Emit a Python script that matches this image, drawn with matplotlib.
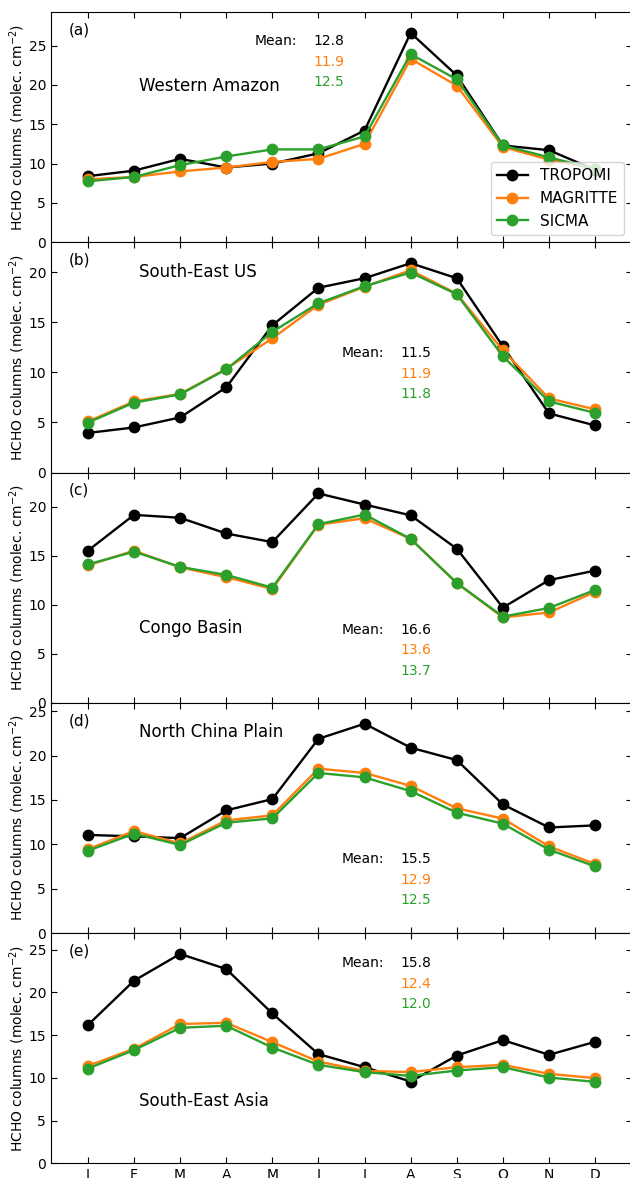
import matplotlib
matplotlib.use("Agg")
import matplotlib.pyplot as plt

# Monthly HCHO columns (molec. cm^-2) over five regions
months = ["J", "F", "M", "A", "M", "J", "J", "A", "S", "O", "N", "D"]
regions = ["Western Amazon", "South-East US", "Congo Basin",
           "North China Plain", "South-East Asia"]
tags = ["(a)", "(b)", "(c)", "(d)", "(e)"]

tropomi_wam = [8.4, 9.1, 10.6, 9.5, 10.0, 11.3, 14.2, 26.6, 21.2, 12.3, 11.7, 9.2]
magritte_wam = [8.0, 8.3, 9.0, 9.5, 10.2, 10.6, 12.5, 23.3, 19.9, 12.1, 10.5, 9.35]
sicma_wam = [7.75, 8.3, 9.8, 10.9, 11.8, 11.8, 13.45, 23.9, 20.7, 12.3, 10.8, 9.3]

tropomi_seus = [3.95, 4.5, 5.5, 8.5, 14.7, 18.45, 19.4, 20.9, 19.4, 12.6, 5.9, 4.7]
magritte_seus = [5.1, 7.1, 7.85, 10.35, 13.4, 16.75, 18.55, 20.2, 17.85, 12.2, 7.4, 6.3]
sicma_seus = [4.98, 6.98, 7.8, 10.3, 14.05, 16.9, 18.6, 19.97, 17.8, 11.6, 7.1, 5.95]

tropomi_congo = [15.5, 19.15, 18.85, 17.25, 16.37, 21.33, 20.2, 19.1, 15.7, 9.7, 12.5, 13.47]
magritte_congo = [14.0, 15.5, 13.8, 12.8, 11.6, 18.15, 18.8, 16.7, 12.2, 8.7, 9.2, 11.3]
sicma_congo = [14.1, 15.4, 13.85, 13.03, 11.73, 18.2, 19.18, 16.7, 12.2, 8.78, 9.66, 11.5]

tropomi_ncp = [11.06, 10.9, 10.7, 13.83, 15.1, 21.9, 23.6, 20.9, 19.5, 14.5, 11.9, 12.14]
magritte_ncp = [9.45, 11.5, 10.1, 12.7, 13.27, 18.53, 18.05, 16.6, 14.06, 12.9, 9.77, 7.78]
sicma_ncp = [9.28, 11.2, 9.93, 12.44, 12.93, 18.05, 17.55, 16.0, 13.57, 12.33, 9.4, 7.51]

tropomi_sea = [16.18, 21.37, 24.5, 22.74, 17.54, 12.78, 11.25, 9.57, 12.61, 14.42, 12.7, 14.22]
magritte_sea = [11.4, 13.4, 16.3, 16.45, 14.18, 11.9, 10.82, 10.67, 11.25, 11.52, 10.47, 9.97]
sicma_sea = [11.09, 13.25, 15.86, 16.1, 13.55, 11.52, 10.67, 10.23, 10.86, 11.25, 10.04, 9.53]

mean_tropomi = ["12.8", "11.5", "16.6", "15.5", "15.8"]
mean_magritte = ["11.9", "11.9", "13.6", "12.9", "12.4"]
mean_sicma = ["12.5", "11.8", "13.7", "12.5", "12.0"]

tropomi = [tropomi_wam, tropomi_seus, tropomi_congo, tropomi_ncp, tropomi_sea]
magritte = [magritte_wam, magritte_seus, magritte_congo, magritte_ncp, magritte_sea]
sicma = [sicma_wam, sicma_seus, sicma_congo, sicma_ncp, sicma_sea]

c_trop, c_mag, c_sic = "black", "#ff7f0e", "#2ca02c"

# text placement per panel (axes fraction)
region_y = [0.679, 0.871, 0.324, 0.872, 0.270]
mean_xy = [(0.351, 0.451, 0.874), (0.501, 0.601, 0.519), (0.501, 0.601, 0.318),
           (0.501, 0.601, 0.3195), (0.501, 0.601, 0.868)]
row_step = 0.089

W, H = 630, 1178
fig = plt.figure(figsize=(W / 100, H / 100), dpi=100)
left_px, width_px, top_px, panel_px = 51, 581, 12, 230.26

x = list(range(1, 13))
for i in range(5):
    bottom_px = top_px + (i + 1) * panel_px
    ax = fig.add_axes([left_px / W, 1 - bottom_px / H, width_px / W, panel_px / H])
    kw = dict(marker="o", markersize=7.5, linewidth=1.7)
    ax.plot(x, tropomi[i], color=c_trop, label="TROPOMI", **kw)
    ax.plot(x, magritte[i], color=c_mag, label="MAGRITTE", **kw)
    ax.plot(x, sicma[i], color=c_sic, label="SICMA", **kw)

    ymax = max(max(tropomi[i]), max(magritte[i]), max(sicma[i]))
    ax.set_ylim(0, 1.1 * ymax)
    ax.set_xlim(0.2, 12.8)
    ax.set_xticks(x)
    ax.tick_params(direction="in", top=True, right=True, labelsize=10, length=4)
    if i < 4:
        ax.set_xticklabels([])
    else:
        ax.set_xticklabels(months)
    ax.set_ylabel("HCHO columns (molec. cm$^{-2}$)", fontsize=10)
    ax.yaxis.set_label_coords(-0.042, 0.5)

    ax.text(0.031, 0.922, tags[i], transform=ax.transAxes, fontsize=11, va="center")
    ax.text(0.1515, region_y[i], regions[i], transform=ax.transAxes, fontsize=12,
            va="center")
    mx, vx, my = mean_xy[i]
    ax.text(mx, my, "Mean:", transform=ax.transAxes, fontsize=10, va="center")
    for k, (val, col) in enumerate(zip([mean_tropomi[i], mean_magritte[i], mean_sicma[i]],
                                       [c_trop, c_mag, c_sic])):
        ax.text(vx, my - k * row_step, val, transform=ax.transAxes, fontsize=10,
                va="center", color=col)
    if i == 0:
        ax.legend(loc="lower right", fontsize=11)

fig.savefig("out.png", dpi=100)
